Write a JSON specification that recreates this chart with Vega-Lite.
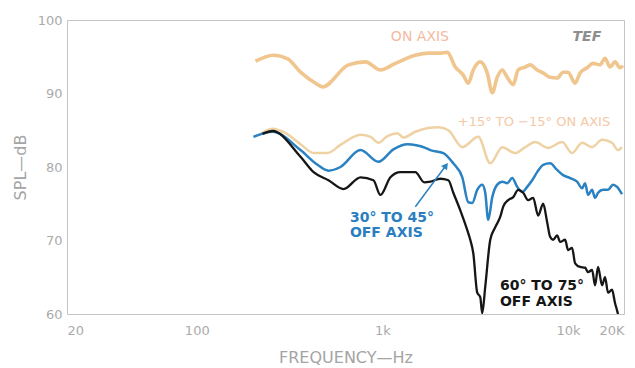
{
  "$schema": "https://vega.github.io/schema/vega-lite/v6.json",
  "width": 557,
  "height": 294,
  "autosize": {"type": "none"},
  "padding": {"left": 67, "top": 20, "right": 11, "bottom": 54},
  "background": "white",
  "config": {"view": {"stroke": "#c4c4c4", "strokeWidth": 1}, "font": "DejaVu Sans"},
  "datasets": {
    "curves": [
      {"s": "on", "f": 207, "db": 94.4}, {"s": "on", "f": 259, "db": 95.2}, {"s": "on", "f": 309, "db": 94.7}, {"s": "on", "f": 362, "db": 92.9}, {"s": "on", "f": 436, "db": 91.4}, {"s": "on", "f": 476, "db": 90.9}, {"s": "on", "f": 656, "db": 93.9}, {"s": "on", "f": 810, "db": 94.3}, {"s": "on", "f": 975, "db": 93.2}, {"s": "on", "f": 1175, "db": 94.1}, {"s": "on", "f": 1504, "db": 95.2}, {"s": "on", "f": 1768, "db": 95.5}, {"s": "on", "f": 2050, "db": 95.5}, {"s": "on", "f": 2236, "db": 95.6}, {"s": "on", "f": 2468, "db": 93.6}, {"s": "on", "f": 2726, "db": 92.5}, {"s": "on", "f": 2900, "db": 91.4}, {"s": "on", "f": 3084, "db": 93.2}, {"s": "on", "f": 3364, "db": 94.3}, {"s": "on", "f": 3668, "db": 92.8}, {"s": "on", "f": 3904, "db": 90.1}, {"s": "on", "f": 4152, "db": 92.2}, {"s": "on", "f": 4418, "db": 93.2}, {"s": "on", "f": 4700, "db": 92.2}, {"s": "on", "f": 5062, "db": 91.2}, {"s": "on", "f": 5384, "db": 93.2}, {"s": "on", "f": 5872, "db": 93.6}, {"s": "on", "f": 6248, "db": 93.9}, {"s": "on", "f": 6812, "db": 93.2}, {"s": "on", "f": 7338, "db": 92.8}, {"s": "on", "f": 8002, "db": 92.2}, {"s": "on", "f": 8726, "db": 92.1}, {"s": "on", "f": 9398, "db": 92.9}, {"s": "on", "f": 10000, "db": 92.9}, {"s": "on", "f": 10906, "db": 91.4}, {"s": "on", "f": 11600, "db": 92.8}, {"s": "on", "f": 12650, "db": 93.5}, {"s": "on", "f": 13626, "db": 94.1}, {"s": "on", "f": 14860, "db": 93.9}, {"s": "on", "f": 15812, "db": 94.8}, {"s": "on", "f": 16818, "db": 93.6}, {"s": "on", "f": 17888, "db": 94.3}, {"s": "on", "f": 19036, "db": 93.5}, {"s": "on", "f": 19700, "db": 93.8},

      {"s": "pm", "f": 215, "db": 84.3}, {"s": "pm", "f": 256, "db": 85.2}, {"s": "pm", "f": 301, "db": 84.6}, {"s": "pm", "f": 362, "db": 83.1}, {"s": "pm", "f": 426, "db": 81.9}, {"s": "pm", "f": 506, "db": 81.9}, {"s": "pm", "f": 594, "db": 83.0}, {"s": "pm", "f": 762, "db": 84.4}, {"s": "pm", "f": 862, "db": 84.1}, {"s": "pm", "f": 951, "db": 83.3}, {"s": "pm", "f": 1064, "db": 84.2}, {"s": "pm", "f": 1204, "db": 84.6}, {"s": "pm", "f": 1297, "db": 84.0}, {"s": "pm", "f": 1504, "db": 84.8}, {"s": "pm", "f": 2000, "db": 85.4}, {"s": "pm", "f": 2264, "db": 85.0}, {"s": "pm", "f": 2692, "db": 82.7}, {"s": "pm", "f": 3282, "db": 84.1}, {"s": "pm", "f": 3808, "db": 80.5}, {"s": "pm", "f": 4418, "db": 82.7}, {"s": "pm", "f": 5188, "db": 81.9}, {"s": "pm", "f": 5872, "db": 82.7}, {"s": "pm", "f": 6646, "db": 83.4}, {"s": "pm", "f": 7806, "db": 82.6}, {"s": "pm", "f": 9284, "db": 83.4}, {"s": "pm", "f": 10508, "db": 81.9}, {"s": "pm", "f": 11894, "db": 83.3}, {"s": "pm", "f": 13460, "db": 82.7}, {"s": "pm", "f": 15236, "db": 83.7}, {"s": "pm", "f": 17240, "db": 83.3}, {"s": "pm", "f": 18570, "db": 82.3}, {"s": "pm", "f": 19508, "db": 82.7},

      {"s": "blue", "f": 202, "db": 84.1}, {"s": "blue", "f": 256, "db": 84.8}, {"s": "blue", "f": 362, "db": 82.3}, {"s": "blue", "f": 447, "db": 80.3}, {"s": "blue", "f": 512, "db": 79.5}, {"s": "blue", "f": 594, "db": 80.0}, {"s": "blue", "f": 762, "db": 82.3}, {"s": "blue", "f": 951, "db": 80.7}, {"s": "blue", "f": 1146, "db": 82.4}, {"s": "blue", "f": 1363, "db": 83.1}, {"s": "blue", "f": 1703, "db": 82.6}, {"s": "blue", "f": 1812, "db": 82.3}, {"s": "blue", "f": 2128, "db": 81.9}, {"s": "blue", "f": 2408, "db": 80.5}, {"s": "blue", "f": 2692, "db": 78.6}, {"s": "blue", "f": 2900, "db": 75.2}, {"s": "blue", "f": 3046, "db": 75.1}, {"s": "blue", "f": 3240, "db": 76.9}, {"s": "blue", "f": 3448, "db": 77.6}, {"s": "blue", "f": 3578, "db": 76.5}, {"s": "blue", "f": 3714, "db": 72.8}, {"s": "blue", "f": 3904, "db": 75.9}, {"s": "blue", "f": 4152, "db": 77.6}, {"s": "blue", "f": 4418, "db": 78.0}, {"s": "blue", "f": 4700, "db": 77.8}, {"s": "blue", "f": 4998, "db": 78.5}, {"s": "blue", "f": 5318, "db": 77.3}, {"s": "blue", "f": 5658, "db": 76.6}, {"s": "blue", "f": 6018, "db": 77.3}, {"s": "blue", "f": 6404, "db": 78.2}, {"s": "blue", "f": 6812, "db": 79.3}, {"s": "blue", "f": 7338, "db": 80.3}, {"s": "blue", "f": 8002, "db": 80.5}, {"s": "blue", "f": 8726, "db": 79.6}, {"s": "blue", "f": 9398, "db": 78.9}, {"s": "blue", "f": 10252, "db": 78.5}, {"s": "blue", "f": 11178, "db": 78.0}, {"s": "blue", "f": 11894, "db": 77.1}, {"s": "blue", "f": 12340, "db": 77.8}, {"s": "blue", "f": 12810, "db": 76.2}, {"s": "blue", "f": 13460, "db": 76.9}, {"s": "blue", "f": 13970, "db": 75.8}, {"s": "blue", "f": 14496, "db": 76.5}, {"s": "blue", "f": 15422, "db": 76.9}, {"s": "blue", "f": 16408, "db": 76.9}, {"s": "blue", "f": 17460, "db": 77.6}, {"s": "blue", "f": 18344, "db": 77.3}, {"s": "blue", "f": 19508, "db": 76.3},

      {"s": "black", "f": 226, "db": 84.5}, {"s": "black", "f": 256, "db": 84.9}, {"s": "black", "f": 362, "db": 81.4}, {"s": "black", "f": 426, "db": 79.3}, {"s": "black", "f": 512, "db": 78.2}, {"s": "black", "f": 617, "db": 77.0}, {"s": "black", "f": 762, "db": 78.6}, {"s": "black", "f": 894, "db": 78.2}, {"s": "black", "f": 975, "db": 76.2}, {"s": "black", "f": 1104, "db": 78.6}, {"s": "black", "f": 1249, "db": 79.3}, {"s": "black", "f": 1504, "db": 79.3}, {"s": "black", "f": 1680, "db": 77.9}, {"s": "black", "f": 1812, "db": 78.0}, {"s": "black", "f": 2050, "db": 78.4}, {"s": "black", "f": 2264, "db": 78.2}, {"s": "black", "f": 2408, "db": 76.5}, {"s": "black", "f": 2626, "db": 74.1}, {"s": "black", "f": 2864, "db": 71.4}, {"s": "black", "f": 2972, "db": 70.1}, {"s": "black", "f": 3084, "db": 68.3}, {"s": "black", "f": 3240, "db": 62.9}, {"s": "black", "f": 3364, "db": 62.3}, {"s": "black", "f": 3448, "db": 60.1}, {"s": "black", "f": 3578, "db": 63.7}, {"s": "black", "f": 3808, "db": 70.1}, {"s": "black", "f": 4050, "db": 71.8}, {"s": "black", "f": 4308, "db": 73.2}, {"s": "black", "f": 4472, "db": 74.6}, {"s": "black", "f": 4758, "db": 75.5}, {"s": "black", "f": 5062, "db": 75.9}, {"s": "black", "f": 5384, "db": 76.9}, {"s": "black", "f": 5728, "db": 76.5}, {"s": "black", "f": 6094, "db": 75.5}, {"s": "black", "f": 6484, "db": 75.8}, {"s": "black", "f": 6898, "db": 73.4}, {"s": "black", "f": 7338, "db": 75.0}, {"s": "black", "f": 7710, "db": 72.5}, {"s": "black", "f": 8002, "db": 70.5}, {"s": "black", "f": 8304, "db": 70.1}, {"s": "black", "f": 8726, "db": 70.7}, {"s": "black", "f": 9058, "db": 69.8}, {"s": "black", "f": 9636, "db": 70.1}, {"s": "black", "f": 10000, "db": 68.7}, {"s": "black", "f": 10508, "db": 69.0}, {"s": "black", "f": 10906, "db": 66.9}, {"s": "black", "f": 11600, "db": 66.4}, {"s": "black", "f": 12340, "db": 66.3}, {"s": "black", "f": 12810, "db": 65.7}, {"s": "black", "f": 13460, "db": 66.0}, {"s": "black", "f": 13970, "db": 63.9}, {"s": "black", "f": 14496, "db": 66.4}, {"s": "black", "f": 15236, "db": 63.9}, {"s": "black", "f": 15812, "db": 65.0}, {"s": "black", "f": 16408, "db": 62.9}, {"s": "black", "f": 17240, "db": 63.3}, {"s": "black", "f": 17888, "db": 61.5}, {"s": "black", "f": 18344, "db": 60.5}, {"s": "black", "f": 18570, "db": 60.0}
    ],
    "labels": [
      {"g": "light", "text": "ON AXIS", "f": 1592, "db": 97.7},
      {"g": "light2", "text": "+15° TO −15° ON AXIS", "f": 6546, "db": 86.1},
      {"g": "tef", "text": "TEF", "f": 12620, "db": 97.7},
      {"g": "blue", "text": "30° TO 45°", "f": 668, "db": 73.1},
      {"g": "blue", "text": "OFF AXIS", "f": 668, "db": 71.0},
      {"g": "black", "text": "60° TO 75°", "f": 4294, "db": 63.8},
      {"g": "black", "text": "OFF AXIS", "f": 4294, "db": 61.6}
    ],
    "arrow": [
      {"f": 1504, "db": 74.6, "f2": 2198, "db2": 80.2}
    ]
  },
  "layer": [
    {
      "data": {"name": "curves"},
      "transform": [{"filter": "datum.s == 'on'"}],
      "mark": {"type": "line", "color": "#f0c68e", "strokeWidth": 3.6, "interpolate": "monotone", "clip": true},
      "encoding": {
        "x": {
          "field": "f", "type": "quantitative",
          "scale": {"type": "log", "domain": [20, 20000], "nice": false},
          "axis": {
            "title": "FREQUENCY—Hz",
            "values": [20, 100, 1000, 10000, 20000],
            "labelExpr": "datum.value == 20000 ? '20K' : (datum.value >= 1000 ? (datum.value / 1000) + 'k' : '' + datum.value)",
            "ticks": false, "domain": false, "grid": false,
            "labelColor": "#ababab", "labelFontSize": 13, "labelPadding": 10, "labelFlush": true,
            "titleColor": "#a4a4a4", "titleFontSize": 16, "titleFontWeight": "normal",
            "titleY": 43, "titleBaseline": "middle"
          }
        },
        "y": {
          "field": "db", "type": "quantitative",
          "scale": {"domain": [60, 100], "nice": false},
          "axis": {
            "title": "SPL—dB",
            "values": [60, 70, 80, 90, 100],
            "ticks": false, "domain": false, "grid": false,
            "labelColor": "#ababab", "labelFontSize": 13, "labelPadding": 5, "labelFlush": false,
            "titleColor": "#a4a4a4", "titleFontSize": 16, "titleFontWeight": "normal",
            "titleX": -47, "titleY": 147, "titleAngle": -90, "titleBaseline": "middle", "titleAlign": "center"
          }
        }
      }
    },
    {
      "data": {"name": "curves"},
      "transform": [{"filter": "datum.s == 'pm'"}],
      "mark": {"type": "line", "color": "#efd2a4", "strokeWidth": 2.5, "interpolate": "monotone", "clip": true},
      "encoding": {"x": {"field": "f", "type": "quantitative"}, "y": {"field": "db", "type": "quantitative"}}
    },
    {
      "data": {"name": "curves"},
      "transform": [{"filter": "datum.s == 'blue'"}],
      "mark": {"type": "line", "color": "#2a82c2", "strokeWidth": 2.5, "interpolate": "monotone", "clip": true},
      "encoding": {"x": {"field": "f", "type": "quantitative"}, "y": {"field": "db", "type": "quantitative"}}
    },
    {
      "data": {"name": "curves"},
      "transform": [{"filter": "datum.s == 'black'"}],
      "mark": {"type": "line", "color": "#161616", "strokeWidth": 2.3, "interpolate": "monotone", "clip": true},
      "encoding": {"x": {"field": "f", "type": "quantitative"}, "y": {"field": "db", "type": "quantitative"}}
    },
    {
      "data": {"name": "arrow"},
      "mark": {"type": "rule", "color": "#2a82c2", "strokeWidth": 1.5},
      "encoding": {
        "x": {"field": "f", "type": "quantitative"}, "y": {"field": "db", "type": "quantitative"},
        "x2": {"field": "f2"}, "y2": {"field": "db2"}
      }
    },
    {
      "data": {"name": "arrow"},
      "mark": {"type": "point", "shape": "triangle-up", "filled": true, "color": "#2a82c2", "size": 55, "angle": 36, "opacity": 1},
      "encoding": {"x": {"field": "f2", "type": "quantitative"}, "y": {"field": "db2", "type": "quantitative"}}
    },
    {
      "data": {"name": "labels"},
      "transform": [{"filter": "datum.g == 'light'"}],
      "mark": {"type": "text", "color": "#f2baa0", "fontSize": 14, "align": "center", "baseline": "middle"},
      "encoding": {"x": {"field": "f", "type": "quantitative"}, "y": {"field": "db", "type": "quantitative"}, "text": {"field": "text"}}
    },
    {
      "data": {"name": "labels"},
      "transform": [{"filter": "datum.g == 'light2'"}],
      "mark": {"type": "text", "color": "#f4c9a6", "fontSize": 13, "align": "center", "baseline": "middle"},
      "encoding": {"x": {"field": "f", "type": "quantitative"}, "y": {"field": "db", "type": "quantitative"}, "text": {"field": "text"}}
    },
    {
      "data": {"name": "labels"},
      "transform": [{"filter": "datum.g == 'tef'"}],
      "mark": {"type": "text", "color": "#8e8e8e", "fontSize": 14, "fontWeight": "bold", "fontStyle": "italic", "align": "center", "baseline": "middle"},
      "encoding": {"x": {"field": "f", "type": "quantitative"}, "y": {"field": "db", "type": "quantitative"}, "text": {"field": "text"}}
    },
    {
      "data": {"name": "labels"},
      "transform": [{"filter": "datum.g == 'blue'"}],
      "mark": {"type": "text", "color": "#2a7ebf", "fontSize": 14, "fontWeight": "bold", "align": "left", "baseline": "middle"},
      "encoding": {"x": {"field": "f", "type": "quantitative"}, "y": {"field": "db", "type": "quantitative"}, "text": {"field": "text"}}
    },
    {
      "data": {"name": "labels"},
      "transform": [{"filter": "datum.g == 'black'"}],
      "mark": {"type": "text", "color": "#151515", "fontSize": 14, "fontWeight": "bold", "align": "left", "baseline": "middle"},
      "encoding": {"x": {"field": "f", "type": "quantitative"}, "y": {"field": "db", "type": "quantitative"}, "text": {"field": "text"}}
    }
  ]
}
